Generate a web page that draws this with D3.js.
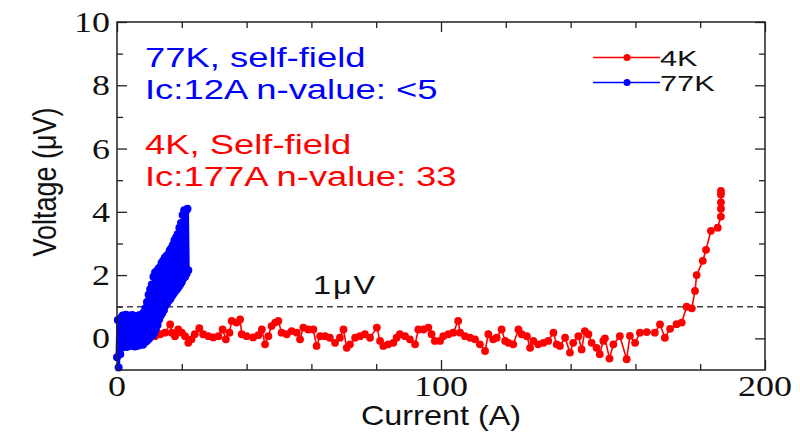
<!DOCTYPE html>
<html><head><meta charset="utf-8">
<script src="https://cdn.jsdelivr.net/npm/d3@7"></script>
<style>body{margin:0;background:#fff}svg{display:block}</style>
</head><body><svg id="c" width="800" height="440"></svg>
<script>
// ---- data ----
const series4K = [[1,0.1],[3,0.05],[5,0.15],[7,0.0],[9,0.1],[10.5,0.05],[11.7,0.07],[13.3,0.13],[14.8,0.18],[16.4,0.44],[16.9,0.18],[17.9,0.07],[18.9,0.28],[20,0.18],[21,0.07],[22,-0.14],[23,-0.03],[24,0.13],[25.4,0.32],[26.6,0.13],[28.2,0.07],[29.7,0.03],[31.3,0.07],[32.6,0.28],[33.6,-0.03],[34.7,0.18],[35.4,0.55],[36.9,0.5],[38,0.6],[38.5,0.13],[40,0.07],[42,0.03],[43.6,0.1],[44.7,0.28],[45.7,-0.19],[46.7,0.07],[47.7,0.39],[48.8,0.5],[49.8,0.55],[50.8,0.18],[52.4,0.13],[53.9,0.23],[55.5,0.18],[56.5,-0.03],[57.5,0.34],[59,0.28],[60.6,0.28],[61.6,-0.24],[62.7,0.07],[64.2,0.07],[65.7,0.02],[67.3,-0.14],[68.8,0.02],[69.9,0.28],[70.9,-0.3],[71.9,-0.19],[73.5,0.02],[75,0.07],[76.5,0.13],[78.1,0.02],[80.2,0.34],[81.2,-0.08],[82.2,-0.24],[83.7,-0.19],[85.3,-0.14],[86.3,0.02],[87.3,0.13],[88.9,0.07],[90.4,-0.03],[92,-0.19],[93,0.28],[94.6,0.28],[96.1,0.34],[97.1,0.13],[98.1,-0.08],[99.7,-0.08],[100.7,0.07],[102.3,0.13],[103.8,0.18],[105.3,0.55],[105.9,0.18],[107.4,0.07],[109,0.02],[110.5,-0.03],[112,-0.19],[113.6,-0.4],[114.6,0.13],[116.1,-0.03],[117.2,0.02],[118.7,0.28],[119.8,-0.08],[120.8,-0.14],[122.3,-0.19],[123.9,0.28],[124.9,0.13],[126.5,0.07],[127.5,-0.3],[128.5,-0.08],[130,-0.19],[131.6,-0.14],[133.1,-0.08],[134.7,0.18],[135.7,-0.19],[136.7,-0.24],[138.3,0.02],[139.8,-0.45],[140.8,-0.14],[142.4,0.07],[143.4,-0.35],[144.4,0.23],[145.5,0.13],[146.5,-0.14],[148,-0.3],[149,-0.5],[150.1,-0.08],[150.6,0],[152,-0.64],[153.2,-0.19],[155.2,0.07],[157.3,-0.66],[158.3,0.08],[159.9,-0.14],[161.4,0.18],[163.5,0.2],[166,0.18],[167.6,0.44],[169.1,0.02],[170.7,0.3],[172.7,0.45],[174.3,0.5],[175.8,1.0],[177.4,0.95],[178.4,1.5],[178.9,2.0],[180.8,2.45],[181.8,2.8],[183.3,3.4],[185.4,3.5],[186.4,3.85],[186.4,4.1],[186.4,4.3],[186.4,4.55],[186.4,4.66]];

const current77K = [0,0.25,0.5,0.75,1,1.25,1.5,1.75,2,2.25,2.5,2.75,3,3.25,3.5,3.75,4,4.25,4.5,4.75,5,5.25,5.5,5.75,6,6.25,6.5,6.75,7,7.25,7.5,7.75,8,8.25,8.5,8.75,9,9.25,9.5,9.75,10,10.25,10.5,10.75,11,11.25,11.5,11.75,12,12.25,12.5,12.75,13,13.25,13.5,13.75,14,14.25,14.5,14.75,15,15.25,15.5,15.75,16,16.25,16.5,16.75,17,17.25,17.5,17.75,18,18.25,18.5,18.75,19,19.25,19.5,19.75,20,20.25,20.5,20.75,21,21.25,21.5,21.75,22];
const voltage77K = [-0.6,0.58,-0.92,0.55,-0.5,0.65,-0.3,0.72,-0.25,0.62,-0.18,0.75,-0.27,0.68,-0.2,0.72,-0.24,0.6,-0.15,0.74,-0.22,0.66,-0.26,0.7,-0.18,0.62,-0.23,0.73,-0.2,0.68,-0.16,0.76,-0.2,0.82,-0.12,0.95,-0.1,1.15,-0.05,1.38,0.0,1.55,0.08,1.7,0.1,1.95,0.18,2.08,0.3,2.12,0.42,2.2,0.6,2.25,0.72,2.38,0.8,2.45,0.9,2.55,1.05,2.6,1.12,2.65,1.2,2.78,1.25,2.85,1.35,2.95,1.42,3.1,1.5,3.2,1.55,3.3,1.62,3.5,1.7,3.65,1.78,3.9,1.9,4.05,1.95,4.02,2.05,4.1,2.15];

const xMajorTicks = [0,100,200];
const xMinorTicks = [20,40,60,80,120,140,160,180];
const yMajorTicks = [0,2,4,6,8,10];
const yMinorTicks = [1,3,5,7,9];
const criterionV = 1;
const criterionLabel = "1\u03BCV";
const legendLabels = ["4K","77K"];
const notes77K = ["77K, self-field","Ic:12A n-value: <5"];
const notes4K = ["4K, Self-field","Ic:177A n-value: 33"];
const xTitle = "Current (A)";
const yTitle = "Voltage (\u03BCV)";

// ---- drawing ----
const RED = "#ff0000", BLUE = "#0000ff";
const SX = 1.2;
const SANS = "'Liberation Sans', Arial, sans-serif";
const SERIF = "'Liberation Serif', 'Times New Roman', serif";
const svg = d3.select("#c");
const L = 117, R = 765, T = 22, B = 370;
const x = d3.scaleLinear().domain([0,200]).range([L,R]);
const y = d3.scaleLinear().domain([-1,10]).range([B,T]);

function stext(g, px, py, str, size, fam, fill, anchor, rot, sx) {
  return g.append("text")
    .attr("transform", `translate(${px},${py}) scale(${sx||SX},1)` + (rot ? ` rotate(${rot})` : ""))
    .attr("text-anchor", anchor).attr("font-size", size)
    .attr("font-family", fam).attr("fill", fill).text(str);
}

// axes (ticks inward on all four sides)
function ax(gen, tr, ticks, size) {
  const a = svg.append("g").attr("transform", tr)
    .call(gen.tickValues(ticks).tickSize(-size).tickFormat(""));
  a.selectAll("path").remove();
  a.selectAll("line").attr("stroke","#222").attr("stroke-width",1.3);
}
ax(d3.axisBottom(x), `translate(0,${B})`, xMajorTicks, 10);
ax(d3.axisBottom(x), `translate(0,${B})`, xMinorTicks, 6);
ax(d3.axisTop(x), `translate(0,${T})`, xMajorTicks, 10);
ax(d3.axisTop(x), `translate(0,${T})`, xMinorTicks, 6);
ax(d3.axisLeft(y), `translate(${L},0)`, yMajorTicks, 10);
ax(d3.axisLeft(y), `translate(${L},0)`, yMinorTicks, 6);
ax(d3.axisRight(y), `translate(${R},0)`, yMajorTicks, 10);
ax(d3.axisRight(y), `translate(${R},0)`, yMinorTicks, 6);

// criterion dashed line
svg.append("line").attr("x1",L).attr("x2",R).attr("y1",y(criterionV)).attr("y2",y(criterionV))
  .attr("stroke","#444").attr("stroke-width",1.3).attr("stroke-dasharray","6,4");
stext(svg, 313, 294, criterionLabel, 26, SANS, "#111", "start", 0, 1.25).attr("letter-spacing", 1.5);

// 4K series
const line = d3.line().x(d=>x(d[0])).y(d=>y(d[1]));
svg.append("path").datum(series4K).attr("d",line).attr("fill","none")
  .attr("stroke",RED).attr("stroke-width",1.6);
svg.append("g").selectAll("circle").data(series4K).join("circle")
  .attr("cx",d=>x(d[0])).attr("cy",d=>y(d[1])).attr("r",3.9).attr("fill",RED);

// 77K series
const pts77 = current77K.map((c,i)=>[c, voltage77K[i]]);
svg.append("path").datum(pts77).attr("d",line).attr("fill","none")
  .attr("stroke",BLUE).attr("stroke-width",3).attr("stroke-linejoin","round");
svg.append("g").selectAll("circle").data(pts77).join("circle")
  .attr("cx",d=>x(d[0])).attr("cy",d=>y(d[1])).attr("r",4).attr("fill",BLUE);

// frame
svg.append("rect").attr("x",L).attr("y",T).attr("width",R-L).attr("height",B-T)
  .attr("fill","none").attr("stroke","#222").attr("stroke-width",1.5);

// tick labels
xMajorTicks.forEach(v => stext(svg, x(v), 396, String(v), 30, SERIF, "#111", "middle"));
yMajorTicks.forEach(v => stext(svg, 110, y(v)+10, String(v), 30, SERIF, "#111", "end"));

// titles
stext(svg, x(100), 425, xTitle, 27, SANS, "#111", "middle");
stext(svg, 56, 182, yTitle, 27, SANS, "#111", "middle", -90);

// notes
notes77K.forEach((s,i) => stext(svg, 145, 67 + i*31.5, s, 28, SANS, BLUE, "start", 0, 1.3));
notes4K.forEach((s,i) => stext(svg, 145, 154 + i*31.5, s, 28, SANS, RED, "start", 0, 1.3));

// legend
[RED, BLUE].forEach((c,i) => {
  const ly = 57.5 + i*25;
  svg.append("line").attr("x1",593).attr("x2",660).attr("y1",ly).attr("y2",ly)
    .attr("stroke",c).attr("stroke-width",1.3);
  svg.append("circle").attr("cx",627).attr("cy",ly).attr("r",3.5).attr("fill",c);
  stext(svg, 660, ly + 8.5, legendLabels[i], 22, SANS, "#111", "start", 0, 1.4);
});
</script></body></html>
